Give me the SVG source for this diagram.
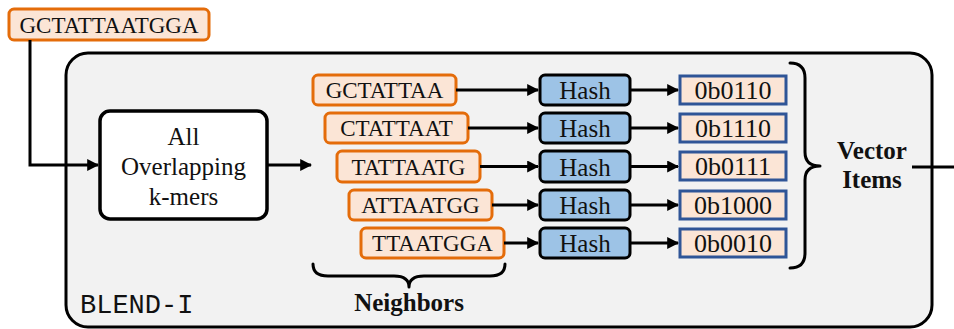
<svg xmlns="http://www.w3.org/2000/svg" width="954" height="329" viewBox="0 0 954 329">
  <defs>
    <marker id="arrow" viewBox="0 0 10 10" refX="9" refY="5" markerWidth="4" markerHeight="4" orient="auto" markerUnits="strokeWidth">
      <path d="M0,0 L10,5 L0,10 Z" fill="#000"/>
    </marker>
    <style>
      .serif { font-family: "Liberation Serif", "DejaVu Serif", serif; fill: #111; }
      .kmer-box { fill: #FBE5D6; stroke: #E46C0A; stroke-width: 3; }
      .hash-box { fill: #9DC3E6; stroke: #000; stroke-width: 3; }
      .val-box { fill: #FBE5D6; stroke: #2F5597; stroke-width: 3; }
      .seq { font-size: 23px; text-anchor: middle; }
      .hash { font-size: 25px; text-anchor: middle; }
      .val { font-size: 26px; text-anchor: middle; }
      .bold { font-weight: bold; font-size: 25px; text-anchor: middle; }
      .conn { stroke: #000; stroke-width: 3; fill: none; }
      .brace { stroke: #000; stroke-width: 3; fill: none; stroke-linecap: round; stroke-linejoin: round; }
    </style>
  </defs>

  <!-- BLEND-I container -->
  <g id="blend-i">
    <rect x="66" y="53" width="866" height="274" rx="22" fill="#F2F2F2" stroke="#000" stroke-width="3"/>
    <text x="80" y="313" font-family="Liberation Mono, DejaVu Sans Mono, monospace" font-size="27" fill="#111">BLEND-I</text>
  </g>

  <!-- input sequence -->
  <g id="input-seq">
    <rect class="kmer-box" x="9" y="9" width="200" height="31" rx="5"/>
    <text class="serif seq" x="109" y="33">GCTATTAATGGA</text>
  </g>

  <!-- k-mer extraction -->
  <g id="all-kmers">
    <rect x="100" y="111" width="167" height="108" rx="10" fill="#fff" stroke="#000" stroke-width="3.5"/>
    <text class="serif" x="183.5" y="145" font-size="25" text-anchor="middle">All</text>
    <text class="serif" x="183.5" y="175" font-size="25" text-anchor="middle">Overlapping</text>
    <text class="serif" x="183.5" y="205" font-size="25" text-anchor="middle">k-mers</text>
  </g>

  <!-- neighbor k-mers -->
  <g id="kmer-1">
    <rect class="kmer-box" x="313" y="75" width="143" height="30" rx="5"/>
    <text class="serif seq" x="384.5" y="98">GCTATTAA</text>
  </g>
  <g id="kmer-2">
    <rect class="kmer-box" x="325" y="113" width="143" height="30" rx="5"/>
    <text class="serif seq" x="396.5" y="136">CTATTAAT</text>
  </g>
  <g id="kmer-3">
    <rect class="kmer-box" x="337" y="151" width="143" height="31" rx="5"/>
    <text class="serif seq" x="408.5" y="174.5">TATTAATG</text>
  </g>
  <g id="kmer-4">
    <rect class="kmer-box" x="349" y="190" width="143" height="30" rx="5"/>
    <text class="serif seq" x="420.5" y="213">ATTAATGG</text>
  </g>
  <g id="kmer-5">
    <rect class="kmer-box" x="361" y="228" width="143" height="30" rx="5"/>
    <text class="serif seq" x="432.5" y="251">TTAATGGA</text>
  </g>

  <!-- hash functions -->
  <g id="hash-1">
    <rect class="hash-box" x="540" y="75" width="90" height="30" rx="5"/>
    <text class="serif hash" x="585" y="99">Hash</text>
  </g>
  <g id="hash-2">
    <rect class="hash-box" x="540" y="113" width="90" height="30" rx="5"/>
    <text class="serif hash" x="585" y="137">Hash</text>
  </g>
  <g id="hash-3">
    <rect class="hash-box" x="540" y="151" width="90" height="31" rx="5"/>
    <text class="serif hash" x="585" y="175.5">Hash</text>
  </g>
  <g id="hash-4">
    <rect class="hash-box" x="540" y="190" width="90" height="30" rx="5"/>
    <text class="serif hash" x="585" y="214">Hash</text>
  </g>
  <g id="hash-5">
    <rect class="hash-box" x="540" y="228" width="90" height="30" rx="5"/>
    <text class="serif hash" x="585" y="252">Hash</text>
  </g>

  <!-- hashed vector items -->
  <g id="val-1">
    <rect class="val-box" x="680" y="76" width="106" height="28"/>
    <text class="serif val" x="733" y="99">0b0110</text>
  </g>
  <g id="val-2">
    <rect class="val-box" x="680" y="114" width="106" height="28"/>
    <text class="serif val" x="733" y="137">0b1110</text>
  </g>
  <g id="val-3">
    <rect class="val-box" x="680" y="152" width="106" height="28"/>
    <text class="serif val" x="733" y="175">0b0111</text>
  </g>
  <g id="val-4">
    <rect class="val-box" x="680" y="191" width="106" height="28"/>
    <text class="serif val" x="733" y="214">0b1000</text>
  </g>
  <g id="val-5">
    <rect class="val-box" x="680" y="229" width="106" height="28"/>
    <text class="serif val" x="733" y="252">0b0010</text>
  </g>

  <!-- group labels with braces -->
  <g id="vector-items">
    <path class="brace" d="M790,63 Q805,63 805,78 L805,152 Q805,166 820,166 Q805,166 805,180 L805,253 Q805,268 790,268"/>
    <text class="serif bold" x="872" y="159">Vector</text>
    <text class="serif bold" x="872" y="188">Items</text>
  </g>
  <g id="neighbors">
    <path class="brace" d="M313,264 Q313,276 328,276 L394,276 Q409,276 409,287 Q409,276 424,276 L490,276 Q505,276 505,264"/>
    <text class="serif bold" x="409" y="311" font-size="26">Neighbors</text>
  </g>

  <!-- connectors -->
  <g id="connectors">
    <polyline class="conn" points="30,40 30,165 98,165" marker-end="url(#arrow)"/>
    <line class="conn" x1="267" y1="165" x2="311" y2="165" marker-end="url(#arrow)"/>
    <line class="conn" x1="456" y1="90" x2="538" y2="90" marker-end="url(#arrow)"/>
    <line class="conn" x1="468" y1="128" x2="538" y2="128" marker-end="url(#arrow)"/>
    <line class="conn" x1="480" y1="166.5" x2="538" y2="166.5" marker-end="url(#arrow)"/>
    <line class="conn" x1="492" y1="205" x2="538" y2="205" marker-end="url(#arrow)"/>
    <line class="conn" x1="504" y1="243" x2="538" y2="243" marker-end="url(#arrow)"/>
    <line class="conn" x1="630" y1="90" x2="678" y2="90" marker-end="url(#arrow)"/>
    <line class="conn" x1="630" y1="128" x2="678" y2="128" marker-end="url(#arrow)"/>
    <line class="conn" x1="630" y1="166.5" x2="678" y2="166.5" marker-end="url(#arrow)"/>
    <line class="conn" x1="630" y1="205" x2="678" y2="205" marker-end="url(#arrow)"/>
    <line class="conn" x1="630" y1="243" x2="678" y2="243" marker-end="url(#arrow)"/>
    <line class="conn" x1="912" y1="167" x2="954" y2="167"/>
  </g>
</svg>
